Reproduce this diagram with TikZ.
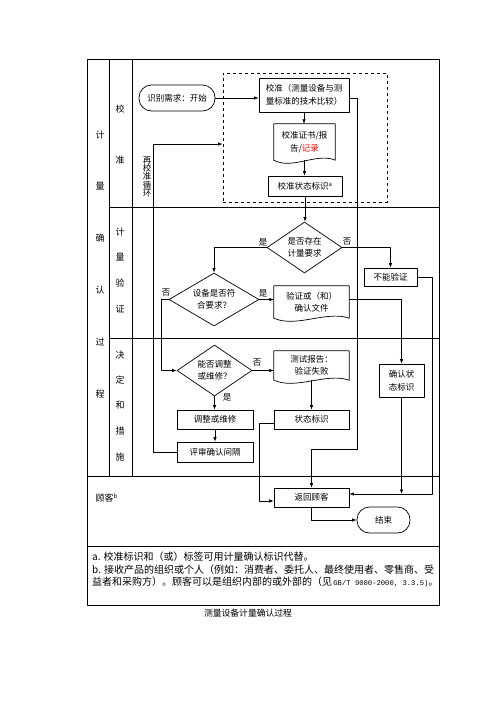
\documentclass[tikz,border=0pt]{standalone}
\usepackage{fontspec}
\usetikzlibrary{shapes.geometric,arrows.meta,calc}
\newfontfamily\cjk{Noto Sans CJK SC}
\newfontfamily\monofont{Liberation Mono}
% document outline with a wavy bottom edge
\newcommand\docframe[1]{%
  \draw[line width=0.7pt] (#1.south west) -- (#1.north west) -- (#1.north east) -- (#1.south east)
    .. controls ($(#1.south east)!0.3!(#1.south west)+(0,-8)$) and ($(#1.south east)!0.7!(#1.south west)+(0,10)$) .. (#1.south west) -- cycle;}
\begin{document}
\begin{tikzpicture}[x=1pt,y=-1pt,line join=round,>={Latex[length=4.5pt,width=3.4pt]},
    font=\cjk\fontsize{8.5}{12.5}\selectfont,
    frame/.style={line width=0.8pt},
    box/.style={draw,line width=0.7pt,align=center,inner sep=1pt},
    terminal/.style={box,rounded corners=12.5pt,minimum height=26},
    decision/.style={draw,line width=0.7pt,diamond,shape aspect=1.47,inner sep=0pt,align=center},
    docu/.style={align=center,inner sep=1pt},
    link/.style={line width=0.6pt},
    lane/.style={font=\cjk\fontsize{9}{10}\selectfont},
    note/.style={anchor=west,inner sep=0pt,font=\cjk\fontsize{10}{12}\selectfont}]
  \useasboundingbox (0,0) rectangle (496,702);
  %表格
  \draw[frame] (87,59) rectangle (439,605);
  \draw[frame] (109,59) -- (109,476) (132,59) -- (132,476)
    (109,207) -- (439,207) (109,338) -- (439,338)
    (87,476) -- (439,476) (87,546) -- (439,546);
  \foreach \t/\y in {计/135,量/186,确/238,认/290,过/342,程/394}
    \node[lane] (outer-\y) at (100,\y) {\t};
  \foreach \t/\y in {校/109,准/160,计/232,量/257,验/283,证/309,决/355,定/380,和/405,措/431,施/457}
    \node[lane] (inner-\y) at (120,\y) {\t};
  \node[lane,anchor=west] (cust) at (92,498) {顾客\textsuperscript{b}};

  %校准
  \node[draw,dashed,line width=0.7pt,minimum width=164,minimum height=129,inner sep=0pt] (calzone) at (305,137.5) {};
  \node[terminal,minimum width=76] (start) at (177,98) {识别需求：开始};
  \node[box,minimum width=90,minimum height=34] (cal) at (304,95) {校准（测量设备与测\\量标准的技术比较）};
  \node[docu,minimum width=61,minimum height=36] (cert) at (304.5,142) {校准证书/报\\告/\textcolor{red}{记录}};
  \node[box,minimum width=74,minimum height=20] (calid) at (305,186) {校准状态标识\textsuperscript{a}};
  \node[align=center,font=\cjk\fontsize{8.5}{8.3}\selectfont] (loop) at (147,177) {再\\校\\准\\循\\环};

  %计量验证
  \node[decision,minimum width=75,minimum height=51] (dec1) at (304.5,247.5) {是否存在\\计量要求};
  \node[box,minimum width=53,minimum height=18] (nover) at (390.5,277) {不能验证};
  \node[decision,minimum width=90,minimum height=53] (dec2) at (214,299.5) {设备是否符\\合要求？};
  \node[docu,minimum width=75,minimum height=32] (verdoc) at (311.5,302) {验证或（和）\\确认文件};

  %决定和措施
  \node[decision,minimum width=75,minimum height=51] (dec3) at (214.5,370.5) {能否调整\\或维修？};
  \node[docu,minimum width=75,minimum height=29] (testdoc) at (311.5,365.5) {测试报告：\\验证失败};
  \node[box,minimum width=76,minimum height=19] (adjust) at (215,419.5) {调整或维修};
  \node[box,minimum width=76,minimum height=20] (review) at (215,452) {评审确认间隔};
  \node[box,minimum width=75,minimum height=19] (status) at (311.5,419.5) {状态标识};
  \node[box,minimum width=45,minimum height=33] (confid) at (401.5,380.5) {确认状\\态标识};

  %顾客
  \node[box,minimum width=75,minimum height=19] (ret) at (311.5,497.5) {返回顾客};
  \node[terminal,minimum width=53] (finish) at (383.5,520) {结束};

  \docframe{cert}
  \docframe{verdoc}
  \docframe{testdoc}

  %是/否
  \node (y1) at (263,242) {是};
  \node (n1) at (347,242) {否};
  \node (n2) at (166,293) {否};
  \node (y2) at (263,293) {是};
  \node (n3) at (257,363) {否};
  \node (y3) at (227,397) {是};

  %连线
  \coordinate (rc) at (357,449);
  \coordinate (rr) at (432,494);
  \coordinate (lp) at (153,144);
  \draw[link,->] (start.east) -- (start.east -| cal.west);
  \draw[link,->] (start.east -| cal.east) -| (rc) -| (ret.north);
  \draw[link,->] (cal.south) -- (cal.south |- cert.north);
  \draw[link,->] (cert.south) -- (cert.south |- calid.north);
  \draw[link,->] (calid.south) -- (calid.south |- dec1.north);
  \draw[link,->] (dec1.west) -| (dec2.north);
  \draw[link,->] (dec1.east) -| (nover.north);
  \draw[link,->] (nover.east) -| (rr) -- (rr -| ret.east);
  \draw[link,->] (confid.south) -- (confid.south |- rr);
  \draw[link,->] (dec2.east) -- (dec2.east -| verdoc.west);
  \draw[link,->] (dec2.east -| verdoc.east) -| (confid.north);
  \draw[link,->] (dec2.west) -- ++(-7,0) |- (dec3.west);
  \draw[link,->] (dec3.east) -- (dec3.east -| testdoc.west);
  \draw[link,->] (dec3.south) -- (dec3.south |- adjust.north);
  \draw[link,->] (adjust.south) -- (adjust.south |- review.north);
  \draw[link,->] (review.west) -| (lp) -- (lp -| calzone.west);
  \draw[link,->] (testdoc.south) -- (testdoc.south |- status.north);
  \draw[link,->] ([yshift=-3.5pt]status.west) -- ++(-14,0) |- ([yshift=-3.5pt]ret.west);
  \draw[link,->] (ret.south) |- (finish.west);

  %注
  \node[note] (na) at (92,557) {a. 校准标识和（或）标签可用计量确认标识代替。};
  \node[note] (nb) at (92,569.5) {b. 接收产品的组织或个人（例如：消费者、委托人、最终使用者、零售商、受};
  \node[note] (nc) at (92,582) {益者和采购方）。顾客可以是组织内部的或外部的（见{\monofont\fontsize{7.2}{10}\selectfont\,GB/T 9000-2000, 3.3.5)}。};
  \node[font=\cjk\fontsize{8.8}{10}\selectfont] (caption) at (248,613) {测量设备计量确认过程};
\end{tikzpicture}
\end{document}
